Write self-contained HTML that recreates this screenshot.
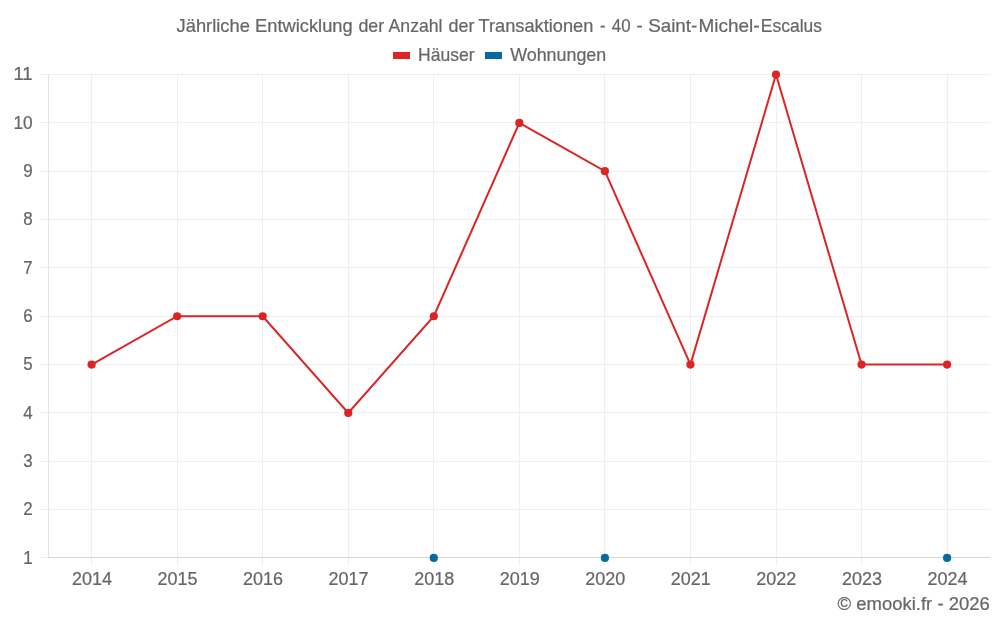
<!DOCTYPE html>
<html lang="de"><head><meta charset="utf-8"><title>Jährliche Entwicklung der Anzahl der Transaktionen</title>
<style>html,body{margin:0;padding:0;background:#fff;}svg{display:block;will-change:transform;}text{font-family:"Liberation Sans",sans-serif;fill:#666666;stroke:#666666;stroke-width:0.22px;}</style></head><body>
<svg width="1000" height="625" viewBox="0 0 1000 625">
<rect width="1000" height="625" fill="#fff"/>
<g stroke-width="1">
<line x1="40.8" x2="990.3" y1="557.5" y2="557.5" stroke="#efefef"/>
<line x1="40.8" x2="990.3" y1="509.5" y2="509.5" stroke="#efefef"/>
<line x1="40.8" x2="990.3" y1="461.5" y2="461.5" stroke="#efefef"/>
<line x1="40.8" x2="990.3" y1="412.5" y2="412.5" stroke="#efefef"/>
<line x1="40.8" x2="990.3" y1="364.5" y2="364.5" stroke="#efefef"/>
<line x1="40.8" x2="990.3" y1="316.5" y2="316.5" stroke="#efefef"/>
<line x1="40.8" x2="990.3" y1="267.5" y2="267.5" stroke="#efefef"/>
<line x1="40.8" x2="990.3" y1="219.5" y2="219.5" stroke="#efefef"/>
<line x1="40.8" x2="990.3" y1="171.5" y2="171.5" stroke="#efefef"/>
<line x1="40.8" x2="990.3" y1="122.5" y2="122.5" stroke="#efefef"/>
<line x1="40.8" x2="990.3" y1="74.5" y2="74.5" stroke="#efefef"/>
<line x1="91.5" x2="91.5" y1="74" y2="565.7" stroke="#efefef"/>
<line x1="177.5" x2="177.5" y1="74" y2="565.7" stroke="#efefef"/>
<line x1="262.5" x2="262.5" y1="74" y2="565.7" stroke="#efefef"/>
<line x1="348.5" x2="348.5" y1="74" y2="565.7" stroke="#efefef"/>
<line x1="433.5" x2="433.5" y1="74" y2="565.7" stroke="#efefef"/>
<line x1="519.5" x2="519.5" y1="74" y2="565.7" stroke="#efefef"/>
<line x1="604.5" x2="604.5" y1="74" y2="565.7" stroke="#efefef"/>
<line x1="690.5" x2="690.5" y1="74" y2="565.7" stroke="#efefef"/>
<line x1="776.5" x2="776.5" y1="74" y2="565.7" stroke="#efefef"/>
<line x1="861.5" x2="861.5" y1="74" y2="565.7" stroke="#efefef"/>
<line x1="947.5" x2="947.5" y1="74" y2="565.7" stroke="#efefef"/>
<line x1="48.5" x2="48.5" y1="74" y2="558" stroke="#e4e4e4"/>
<line x1="48" x2="990.3" y1="557.5" y2="557.5" stroke="#d6d6d6"/>
</g>
<text y="31.8" font-size="18.5"><tspan x="176.60" textLength="73.25" lengthAdjust="spacingAndGlyphs">Jährliche</tspan> <tspan x="255.01" textLength="97.70" lengthAdjust="spacingAndGlyphs">Entwicklung</tspan> <tspan x="358.40" textLength="25.76" lengthAdjust="spacingAndGlyphs">der</tspan> <tspan x="388.60" textLength="53.95" lengthAdjust="spacingAndGlyphs">Anzahl</tspan> <tspan x="448.60" textLength="25.96" lengthAdjust="spacingAndGlyphs">der</tspan> <tspan x="478.60" textLength="114.74" lengthAdjust="spacingAndGlyphs">Transaktionen</tspan> <tspan x="600.00" textLength="5.55" lengthAdjust="spacingAndGlyphs">-</tspan> <tspan x="611.80" textLength="18.73" lengthAdjust="spacingAndGlyphs">40</tspan> <tspan x="636.60" textLength="6.17" lengthAdjust="spacingAndGlyphs">-</tspan> <tspan x="648.18" textLength="49.15" lengthAdjust="spacingAndGlyphs">Saint-</tspan><tspan x="698.58" textLength="61.06" lengthAdjust="spacingAndGlyphs">Michel-</tspan><tspan x="760.86" textLength="61.14" lengthAdjust="spacingAndGlyphs">Escalus</tspan></text>
<rect x="393" y="52" width="17" height="7" fill="#db2525"/>
<text x="418.07" y="61.4" font-size="18.8" textLength="56.51" lengthAdjust="spacingAndGlyphs">Häuser</text>
<rect x="485" y="52" width="17" height="7" fill="#0569a2"/>
<text x="510.20" y="61.4" font-size="18.8" textLength="96.01" lengthAdjust="spacingAndGlyphs">Wohnungen</text>
<text x="32.6" y="563.70" font-size="18.4" text-anchor="end" textLength="9.4" lengthAdjust="spacingAndGlyphs">1</text>
<text x="32.6" y="515.37" font-size="18.4" text-anchor="end" textLength="9.4" lengthAdjust="spacingAndGlyphs">2</text>
<text x="32.6" y="467.03" font-size="18.4" text-anchor="end" textLength="9.4" lengthAdjust="spacingAndGlyphs">3</text>
<text x="32.6" y="418.69" font-size="18.4" text-anchor="end" textLength="9.4" lengthAdjust="spacingAndGlyphs">4</text>
<text x="32.6" y="370.36" font-size="18.4" text-anchor="end" textLength="9.4" lengthAdjust="spacingAndGlyphs">5</text>
<text x="32.6" y="322.03" font-size="18.4" text-anchor="end" textLength="9.4" lengthAdjust="spacingAndGlyphs">6</text>
<text x="32.6" y="273.69" font-size="18.4" text-anchor="end" textLength="9.4" lengthAdjust="spacingAndGlyphs">7</text>
<text x="32.6" y="225.36" font-size="18.4" text-anchor="end" textLength="9.4" lengthAdjust="spacingAndGlyphs">8</text>
<text x="32.6" y="177.02" font-size="18.4" text-anchor="end" textLength="9.4" lengthAdjust="spacingAndGlyphs">9</text>
<text x="32.6" y="128.69" font-size="18.4" text-anchor="end" textLength="19.2" lengthAdjust="spacingAndGlyphs">10</text>
<text x="32.6" y="80.35" font-size="18.4" text-anchor="end" textLength="19.2" lengthAdjust="spacingAndGlyphs">11</text>
<text x="91.95" y="585.2" font-size="18.8" text-anchor="middle" textLength="40.0" lengthAdjust="spacingAndGlyphs">2014</text>
<text x="177.50" y="585.2" font-size="18.8" text-anchor="middle" textLength="40.0" lengthAdjust="spacingAndGlyphs">2015</text>
<text x="263.05" y="585.2" font-size="18.8" text-anchor="middle" textLength="40.0" lengthAdjust="spacingAndGlyphs">2016</text>
<text x="348.60" y="585.2" font-size="18.8" text-anchor="middle" textLength="40.0" lengthAdjust="spacingAndGlyphs">2017</text>
<text x="434.15" y="585.2" font-size="18.8" text-anchor="middle" textLength="40.0" lengthAdjust="spacingAndGlyphs">2018</text>
<text x="519.70" y="585.2" font-size="18.8" text-anchor="middle" textLength="40.0" lengthAdjust="spacingAndGlyphs">2019</text>
<text x="605.25" y="585.2" font-size="18.8" text-anchor="middle" textLength="40.0" lengthAdjust="spacingAndGlyphs">2020</text>
<text x="690.80" y="585.2" font-size="18.8" text-anchor="middle" textLength="40.0" lengthAdjust="spacingAndGlyphs">2021</text>
<text x="776.35" y="585.2" font-size="18.8" text-anchor="middle" textLength="40.0" lengthAdjust="spacingAndGlyphs">2022</text>
<text x="861.90" y="585.2" font-size="18.8" text-anchor="middle" textLength="40.0" lengthAdjust="spacingAndGlyphs">2023</text>
<text x="947.45" y="585.2" font-size="18.8" text-anchor="middle" textLength="40.0" lengthAdjust="spacingAndGlyphs">2024</text>
<text x="837.60" y="610" font-size="18.8" textLength="152.15" lengthAdjust="spacingAndGlyphs">© emooki.fr - 2026</text>
<polyline points="91.60,364.56 177.15,316.23 262.70,316.23 348.25,412.89 433.80,316.23 519.35,122.89 604.90,171.22 690.45,364.56 776.00,74.55 861.55,364.56 947.10,364.56" fill="none" stroke="#db2525" stroke-width="2" stroke-linejoin="miter"/>
<circle cx="91.60" cy="364.56" r="4.1" fill="#db2525"/>
<circle cx="177.15" cy="316.23" r="4.1" fill="#db2525"/>
<circle cx="262.70" cy="316.23" r="4.1" fill="#db2525"/>
<circle cx="348.25" cy="412.89" r="4.1" fill="#db2525"/>
<circle cx="433.80" cy="316.23" r="4.1" fill="#db2525"/>
<circle cx="519.35" cy="122.89" r="4.1" fill="#db2525"/>
<circle cx="604.90" cy="171.22" r="4.1" fill="#db2525"/>
<circle cx="690.45" cy="364.56" r="4.1" fill="#db2525"/>
<circle cx="776.00" cy="74.55" r="4.1" fill="#db2525"/>
<circle cx="861.55" cy="364.56" r="4.1" fill="#db2525"/>
<circle cx="947.10" cy="364.56" r="4.1" fill="#db2525"/>
<circle cx="433.80" cy="557.90" r="4.1" fill="#0569a2"/>
<circle cx="604.90" cy="557.90" r="4.1" fill="#0569a2"/>
<circle cx="947.10" cy="557.90" r="4.1" fill="#0569a2"/>
</svg></body></html>
